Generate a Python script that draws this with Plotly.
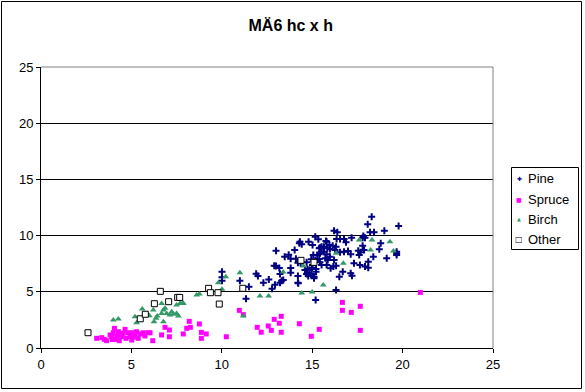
import plotly.graph_objects as go

# ---- data ----
pine_x = [10.01, 10.01, 10.01, 11.0, 11.34, 11.5, 12.0, 12.3, 12.78, 12.94, 13.0, 13.0, 13.18, 13.22, 13.22,
          13.31, 13.48, 13.7, 13.81, 13.81, 13.81, 14.03, 14.1, 14.21, 14.21, 14.21, 14.29, 14.36, 15.19, 14.32,
          14.42, 14.8, 15.02, 15.17, 15.34, 15.39, 15.52, 15.76, 15.84, 15.06, 15.28, 15.43, 15.65, 15.73, 15.86,
          15.98, 14.95, 15.17, 15.39, 14.69, 14.84, 14.73, 14.95, 15.1, 14.73, 15.21, 15.02, 15.52, 15.8, 14.99,
          14.23, 18.29, 18.07, 19.78, 18.99, 16.21, 16.39, 17.83, 18.2, 18.42, 17.18, 15.8, 16.35, 16.54, 16.76,
          16.87, 17.79, 17.92, 18.79, 15.95, 15.65, 16.13, 16.32, 15.43, 15.98, 15.52, 15.8, 16.26, 16.54, 16.76,
          16.98, 17.55, 17.68, 17.87, 17.13, 17.6, 17.79, 18.71, 19.67, 19.67, 18.38, 19.12, 15.43, 16.21, 17.31,
          17.64, 18.1, 17.92, 18.1, 16.17, 16.02, 16.32, 16.69, 17.13, 17.2, 16.5, 16.32, 14.6, 14.69, 14.78,
          14.97, 15.1, 15.21, 19.67, 12.9, 13.4, 11.9, 12.6]
pine_y = [6.79, 6.29, 5.99, 5.99, 4.39, 5.46, 6.41, 5.81, 5.28, 5.63, 7.3, 8.66, 7.12, 6.58, 5.81,
          5.99, 8.12, 8.3, 7.12, 7.95, 6.7, 8.72, 7.95, 7.59, 6.41, 5.81, 9.31, 7.53, 4.27, 9.46,
          9.23, 9.46, 9.16, 9.9, 9.67, 8.87, 9.01, 9.52, 8.87, 8.27, 8.27, 8.42, 8.57, 7.98, 7.83,
          8.12, 7.89, 7.83, 7.92, 7.62, 6.94, 6.64, 6.56, 6.34, 7.03, 7.03, 7.38, 7.38, 7.38, 7.14,
          5.75, 11.68, 11.0, 10.85, 10.44, 10.44, 10.29, 9.96, 10.29, 10.29, 9.81, 9.46, 9.7, 9.7, 9.7,
          9.4, 9.81, 9.81, 9.31, 9.16, 9.01, 9.1, 9.01, 8.93, 8.81, 8.57, 8.33, 8.72, 8.51, 8.57,
          8.63, 8.66, 8.51, 8.72, 8.33, 8.27, 9.1, 8.78, 8.57, 8.27, 8.12, 7.98, 7.62, 7.83, 7.53,
          7.38, 7.68, 7.24, 7.14, 7.24, 7.09, 7.32, 6.79, 6.64, 6.43, 6.34, 5.16, 6.94, 6.58, 6.41,
          6.49, 6.2, 6.79, 8.42, 7.32, 6.05, 6.6, 6.1]

spruce_x = [3.08, 3.36, 3.5, 3.63, 3.82, 3.91, 4.0, 4.06, 4.09, 4.19, 4.28, 4.33, 4.46, 4.55, 4.65,
            4.7, 4.83, 4.92, 5.02, 5.07, 5.2, 5.29, 5.38, 5.48, 5.66, 5.75, 5.94, 6.03, 6.18, 6.67,
            6.86, 7.1, 7.1, 7.87, 8.06, 8.2, 8.26, 8.76, 8.87, 8.87, 9.14, 10.25, 10.97, 11.19, 11.96,
            12.18, 12.57, 12.74, 12.9, 13.18, 13.29, 13.29, 14.29, 14.95, 15.39, 16.67, 16.67, 17.16, 17.66,
            17.66, 20.98, 4.4, 5.1, 3.95]
spruce_y = [0.86, 0.92, 0.77, 0.65, 1.16, 1.01, 1.36, 1.75, 0.77, 1.07, 1.45, 0.65, 1.01, 1.31, 1.66,
            0.86, 1.36, 1.01, 0.71, 1.36, 1.16, 1.45, 0.86, 1.25, 1.36, 1.07, 1.36, 1.36, 0.65, 1.16,
            1.84, 1.6, 1.0, 1.25, 1.75, 2.37, 1.84, 2.14, 1.39, 0.86, 1.25, 1.0, 3.35, 2.97, 1.84,
            1.4, 1.96, 1.57, 2.55, 2.2, 2.82, 1.4, 2.16, 1.04, 1.66, 4.06, 3.35, 3.17, 3.71,
            1.57, 4.95, 1.2, 0.95, 0.75]

birch_x = [4.0, 4.28, 5.2, 5.29, 5.6, 5.88, 5.99, 6.21, 6.25, 6.36, 6.43, 6.67, 6.67, 6.77, 6.77,
           6.86, 6.95, 7.13, 7.23, 7.32, 7.5, 7.5, 7.6, 7.69, 7.87, 8.61, 9.81, 10.01, 8.76, 12.11,
           12.59, 11.19, 11.0, 10.22, 13.4, 14.51, 14.42, 15.0, 15.61, 16.32, 16.72, 17.6, 18.31, 18.23,
           19.3, 19.49, 7.84]
birch_y = [2.49, 2.58, 2.79, 2.25, 3.47, 3.08, 2.88, 3.38, 2.34, 2.64, 2.85, 3.97, 3.08, 3.38, 2.34,
           3.53, 3.08, 2.94, 3.23, 3.0, 3.83, 3.08, 2.85, 3.97, 3.97, 4.72, 5.81, 5.22, 4.8, 4.63,
           4.63, 2.85, 6.7, 6.34, 6.76, 7.3, 4.89, 4.98, 5.6, 8.42, 7.53, 9.61, 9.61, 8.72,
           9.46, 8.63, 4.03]

other_x = [2.6, 5.49, 5.77, 6.27, 6.6, 7.06, 7.56, 7.67, 9.27, 9.37, 9.79, 9.86, 11.16, 14.38, 15.1]
other_y = [1.36, 2.6, 3.0, 3.94, 5.04, 4.12, 4.5, 4.5, 5.31, 4.92, 4.92, 3.91, 5.31, 7.8, 7.62]

series_names = ["Pine", "Spruce", "Birch", "Other"]
x_ticks = [0, 5, 10, 15, 20, 25]
y_ticks = [0, 5, 10, 15, 20, 25]

FONT = "Liberation Sans, Arial, sans-serif"
C_PINE, C_SPRUCE, C_BIRCH = "#000080", "#FF00FF", "#339966"

fig = go.Figure()
fig.add_trace(go.Scatter(x=pine_x, y=pine_y, mode="markers", name=series_names[0],
                         marker=dict(symbol="cross-thin", size=5, color=C_PINE,
                                     line=dict(width=2, color=C_PINE))))
fig.add_trace(go.Scatter(x=spruce_x, y=spruce_y, mode="markers", name=series_names[1],
                         marker=dict(symbol="square", size=5, color=C_SPRUCE, line=dict(width=0))))
fig.add_trace(go.Scatter(x=birch_x, y=birch_y, mode="markers", name=series_names[2],
                         marker=dict(symbol="triangle-up", size=6, color=C_BIRCH, line=dict(width=0))))
fig.add_trace(go.Scatter(x=other_x, y=other_y, mode="markers", name=series_names[3],
                         marker=dict(symbol="square", size=6, color="white",
                                     line=dict(width=1, color="black"))))

W, H = 585, 392
L, R, T, B = 41, 493, 67, 348
pw, ph = R - L, B - T

def px(x):
    return (x - L) / pw

def py(y):
    return (B - y) / ph

# hand-made legend (box, glyphs, labels)
leg_glyphs = [("✚", C_PINE, 6), ("■", C_SPRUCE, 6), ("▲", C_BIRCH, 5), ("□", "black", 8)]
leg_y = [178, 199, 219, 239]
annotations = []
for (g, c, s), name, yy in zip(leg_glyphs, series_names, leg_y):
    annotations.append(dict(text=g, x=px(519), y=py(yy), xref="paper", yref="paper",
                            xanchor="center", yanchor="middle", showarrow=False,
                            font=dict(family="DejaVu Sans", size=s, color=c)))
    annotations.append(dict(text=name, x=px(526), y=py(yy), xref="paper", yref="paper",
                            xanchor="left", yanchor="middle", showarrow=False,
                            font=dict(family=FONT, size=13, color="black")))

fig.update_layout(
    width=W, height=H,
    margin=dict(l=L, r=W - R, t=T, b=H - B),
    paper_bgcolor="white", plot_bgcolor="white",
    font=dict(family=FONT, size=13, color="black"),
    title=dict(text="<b>MÄ6 hc x h</b>", x=0.497, xref="container",
               y=1 - 25 / H, yanchor="middle", xanchor="center",
               font=dict(family=FONT, size=16, color="black")),
    showlegend=False,
    annotations=annotations,
    xaxis=dict(range=[0, 25], tickvals=x_ticks, ticks="outside", ticklen=4, tickcolor="black",
               showline=True, linecolor="black", linewidth=1, showgrid=False, zeroline=False,
               tickfont=dict(family=FONT, size=13, color="black")),
    yaxis=dict(range=[0, 25], tickvals=y_ticks, ticks="outside", ticklen=4, tickcolor="black",
               showline=True, linecolor="black", linewidth=1, showgrid=True, gridcolor="black",
               gridwidth=1, zeroline=False,
               tickfont=dict(family=FONT, size=13, color="black")),
    shapes=[
        dict(type="line", xref="paper", yref="paper", x0=0, x1=1, y0=1, y1=1,
             line=dict(color="#808080", width=1), layer="above"),
        dict(type="line", xref="paper", yref="paper", x0=1, x1=1, y0=0, y1=1,
             line=dict(color="#808080", width=1), layer="above"),
        dict(type="rect", xref="paper", yref="paper", x0=px(1.5), x1=px(581.5),
             y0=py(388.5), y1=py(1.5), line=dict(color="black", width=1), layer="below"),
        dict(type="rect", xref="paper", yref="paper", x0=px(511.5), x1=px(578.5),
             y0=py(249.5), y1=py(167.5), line=dict(color="black", width=1), layer="above"),
    ],
)

fig.write_html("out.html", config={"displayModeBar": False},
               post_script="document.body.style.margin='0';")
